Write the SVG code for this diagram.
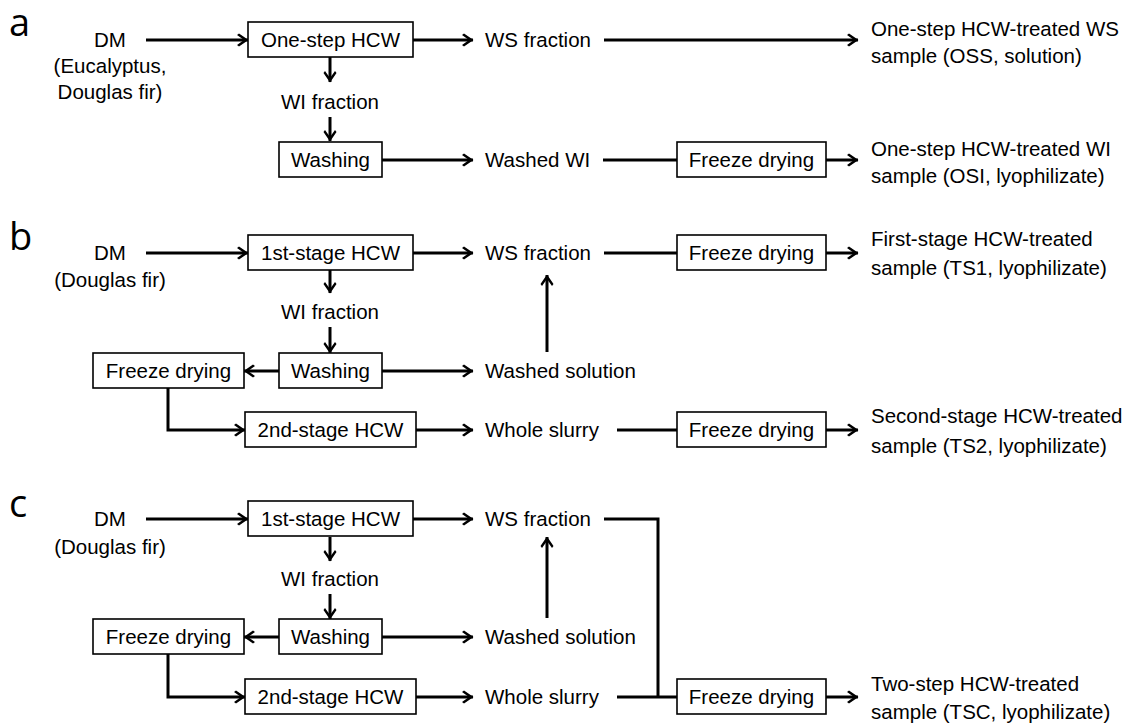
<svg xmlns="http://www.w3.org/2000/svg" width="1129" height="723" viewBox="0 0 1129 723">
<style>
text{font-family:"Liberation Sans",Arial,sans-serif;font-size:20.5px;fill:#000}
.c{text-anchor:middle}
.lbl{font-family:"Open Sans","Liberation Sans",sans-serif;font-size:38px}
.box{fill:#fff;stroke:#000;stroke-width:1.6}
.ln{fill:none;stroke:#000;stroke-width:3}
.ar{marker-end:url(#ah)}
</style>
<defs>
<marker id="ah" viewBox="0 0 12 14" refX="11.5" refY="7" markerWidth="12" markerHeight="14" markerUnits="userSpaceOnUse" orient="auto">
<path d="M0.5,2 L2.5,0.5 L12,7 L2.5,13.5 L0.5,12 L7.5,7 z" fill="#000"/>
</marker>
</defs>
<rect width="1129" height="723" fill="#fff"/>

<g id="connectors">
<!-- panel a -->
<line class="ln ar" x1="146" y1="40" x2="248" y2="40"/>
<line class="ln ar" x1="330" y1="57" x2="330" y2="82"/>
<line class="ln ar" x1="330" y1="117" x2="330" y2="141"/>
<line class="ln ar" x1="413" y1="40" x2="473" y2="40"/>
<line class="ln ar" x1="604" y1="40" x2="858" y2="40"/>
<line class="ln ar" x1="382" y1="160" x2="473" y2="160"/>
<line class="ln" x1="603" y1="160" x2="677" y2="160"/>
<line class="ln ar" x1="826" y1="160" x2="858" y2="160"/>
<!-- panel b -->
<line class="ln ar" x1="146" y1="253" x2="248" y2="253"/>
<line class="ln ar" x1="330" y1="269" x2="330" y2="293"/>
<line class="ln ar" x1="330" y1="327" x2="330" y2="353"/>
<line class="ln ar" x1="413" y1="253" x2="473" y2="253"/>
<line class="ln" x1="604" y1="253" x2="677" y2="253"/>
<line class="ln ar" x1="826" y1="253" x2="858" y2="253"/>
<line class="ln ar" x1="279" y1="371" x2="244" y2="371"/>
<polyline class="ln ar" points="168,388 168,430 245,430"/>
<line class="ln ar" x1="382" y1="371" x2="473" y2="371"/>
<line class="ln ar" x1="547" y1="352" x2="547" y2="275"/>
<line class="ln ar" x1="416" y1="430" x2="473" y2="430"/>
<line class="ln" x1="617" y1="430" x2="677" y2="430"/>
<line class="ln ar" x1="826" y1="430" x2="858" y2="430"/>
<!-- panel c -->
<line class="ln ar" x1="146" y1="519" x2="248" y2="519"/>
<line class="ln ar" x1="330" y1="537" x2="330" y2="561"/>
<line class="ln ar" x1="330" y1="594" x2="330" y2="619"/>
<line class="ln ar" x1="413" y1="519" x2="473" y2="519"/>
<polyline class="ln" points="604,519 658,519 658,697"/>
<line class="ln ar" x1="279" y1="637" x2="244" y2="637"/>
<polyline class="ln ar" points="168,654 168,697 245,697"/>
<line class="ln ar" x1="382" y1="637" x2="473" y2="637"/>
<line class="ln ar" x1="547" y1="618" x2="547" y2="537"/>
<line class="ln ar" x1="416" y1="697" x2="473" y2="697"/>
<line class="ln" x1="617" y1="697" x2="677" y2="697"/>
<line class="ln ar" x1="826" y1="697" x2="858" y2="697"/>
</g>

<!-- panel labels -->
<g id="labels">
<text class="lbl" x="9" y="36">a</text>
<text class="lbl" x="9" y="250">b</text>
<text class="lbl" x="9" y="517">c</text>
</g>

<!-- panel a -->
<g id="a-dm"><text class="c" x="110" y="47">DM</text><text class="c" x="110" y="73">(Eucalyptus,</text><text class="c" x="110" y="99">Douglas fir)</text></g>
<g id="a-hcw"><rect class="box" x="248" y="22" width="165" height="35"/><text class="c" x="330.5" y="47">One-step HCW</text></g>
<g id="a-wi"><text class="c" x="330" y="109">WI fraction</text></g>
<g id="a-wash"><rect class="box" x="279" y="142" width="103" height="35"/><text class="c" x="330.5" y="167">Washing</text></g>
<g id="a-ws"><text x="485" y="47">WS fraction</text></g>
<g id="a-washedwi"><text x="485" y="167">Washed WI</text></g>
<g id="a-fd"><rect class="box" x="677" y="142" width="149" height="35"/><text class="c" x="751.5" y="167">Freeze drying</text></g>
<g id="a-oss"><text x="871" y="36">One-step HCW-treated WS</text><text x="871" y="63">sample (OSS, solution)</text></g>
<g id="a-osi"><text x="871" y="156">One-step HCW-treated WI</text><text x="871" y="183">sample (OSI, lyophilizate)</text></g>

<!-- panel b -->
<g id="b-dm"><text class="c" x="110" y="260">DM</text><text class="c" x="110" y="287">(Douglas fir)</text></g>
<g id="b-hcw1"><rect class="box" x="248" y="235" width="165" height="35"/><text class="c" x="330.5" y="260">1st-stage HCW</text></g>
<g id="b-wi"><text class="c" x="330" y="319">WI fraction</text></g>
<g id="b-wash"><rect class="box" x="279" y="353" width="103" height="35"/><text class="c" x="330.5" y="378">Washing</text></g>
<g id="b-fdl"><rect class="box" x="93" y="353" width="151" height="35"/><text class="c" x="168.5" y="378">Freeze drying</text></g>
<g id="b-hcw2"><rect class="box" x="245" y="412" width="171" height="35"/><text class="c" x="330.5" y="437">2nd-stage HCW</text></g>
<g id="b-ws"><text x="485" y="260">WS fraction</text></g>
<g id="b-wsol"><text x="485" y="378">Washed solution</text></g>
<g id="b-slurry"><text x="485" y="437">Whole slurry</text></g>
<g id="b-fd1"><rect class="box" x="677" y="235" width="149" height="35"/><text class="c" x="751.5" y="260">Freeze drying</text></g>
<g id="b-fd2"><rect class="box" x="677" y="412" width="149" height="35"/><text class="c" x="751.5" y="437">Freeze drying</text></g>
<g id="b-ts1"><text x="871" y="246">First-stage HCW-treated</text><text x="871" y="275">sample (TS1, lyophilizate)</text></g>
<g id="b-ts2"><text x="871" y="423">Second-stage HCW-treated</text><text x="871" y="453">sample (TS2, lyophilizate)</text></g>

<!-- panel c -->
<g id="c-dm"><text class="c" x="110" y="526">DM</text><text class="c" x="110" y="554">(Douglas fir)</text></g>
<g id="c-hcw1"><rect class="box" x="248" y="501" width="165" height="35"/><text class="c" x="330.5" y="526">1st-stage HCW</text></g>
<g id="c-wi"><text class="c" x="330" y="586">WI fraction</text></g>
<g id="c-wash"><rect class="box" x="279" y="619" width="103" height="35"/><text class="c" x="330.5" y="644">Washing</text></g>
<g id="c-fdl"><rect class="box" x="93" y="619" width="151" height="35"/><text class="c" x="168.5" y="644">Freeze drying</text></g>
<g id="c-hcw2"><rect class="box" x="245" y="679" width="171" height="35"/><text class="c" x="330.5" y="704">2nd-stage HCW</text></g>
<g id="c-ws"><text x="485" y="526">WS fraction</text></g>
<g id="c-wsol"><text x="485" y="644">Washed solution</text></g>
<g id="c-slurry"><text x="485" y="704">Whole slurry</text></g>
<g id="c-fd"><rect class="box" x="677" y="679" width="149" height="35"/><text class="c" x="751.5" y="704">Freeze drying</text></g>
<g id="c-tsc"><text x="871" y="691">Two-step HCW-treated</text><text x="871" y="719">sample (TSC, lyophilizate)</text></g>
</svg>
